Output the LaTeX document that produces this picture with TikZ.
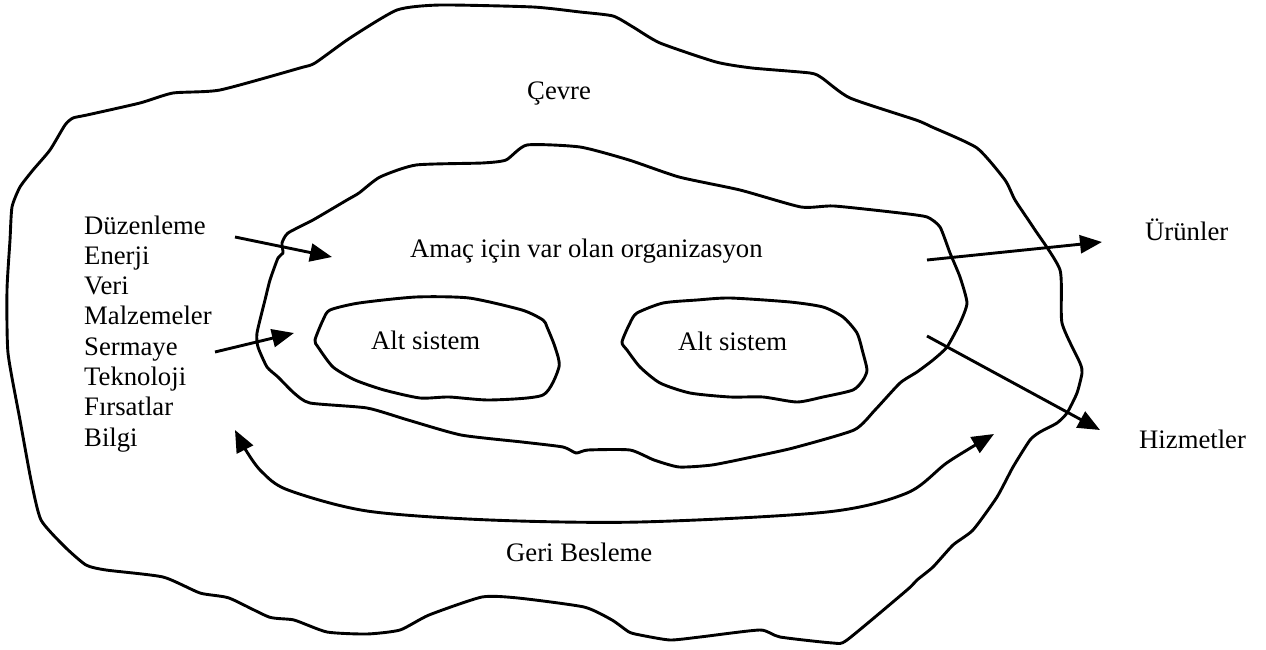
\documentclass[tikz,border=0pt]{standalone}
\usepackage{fontspec}
\setmainfont{Liberation Serif}
\usetikzlibrary{arrows.meta}

\tikzset{
  blob/.style={line width=2.9pt, line join=round, line cap=round},
  flow/.style={line width=2.9pt, -{Triangle[length=22pt,width=18pt]}},
  flowboth/.style={line width=2.9pt, {Triangle[length=22pt,width=18pt]}-{Triangle[length=22pt,width=18pt]}},
  lbl/.style={font=\fontsize{26.7}{30}\selectfont, inner sep=0pt, anchor=base west},
}

\begin{document}
\begin{tikzpicture}[x=1pt, y=-1pt]
\useasboundingbox (0,0) rectangle (1266,650);

% environment boundary
\draw[blob] plot[smooth cycle, tension=0.35] coordinates {
  (65,125) (73,118) (87,115) (140,103) (173,93) (220,90) (300,68) (315,63)
  (350,38) (397,10) (440,5) (533,7) (580,12) (613,16) (633,27) (660,43)
  (716,62) (752,68) (810,73) (822,78) (850,98) (916,120) (932,127)
  (977,148) (1005,180) (1015,200) (1033,227) (1060,270) (1062,323)
  (1080,363) (1082,373) (1077,393) (1067,413) (1057,423) (1040,432)
  (1030,440) (1013,467) (997,497) (973,530) (953,545) (933,567) (917,580)
  (907,590) (847,640) (833,643) (780,637) (760,630) (700,637) (670,640)
  (640,635) (629,632) (612,620) (584,607) (518,598) (482,597) (429,615)
  (400,630) (367,634) (327,632) (294,620) (269,617) (229,598) (200,593)
  (163,577) (106,570) (86,565) (65,547) (41,520) (31,480) (20,420)
  (8,353) (7,290) (10,240) (12,207) (20,187) (33,170) (50,150)};

% organisation boundary
\draw[blob] plot[smooth cycle, tension=0.35] coordinates {
  (380,177) (416,165) (482,163) (506,160) (527,145) (580,147) (629,160)
  (679,177) (740,190) (801,207) (834,206) (900,213) (927,217) (940,227)
  (950,253) (960,277) (967,303) (960,323) (947,347) (933,360) (917,372)
  (900,383) (875,410) (854,430) (793,448) (752,457) (712,465) (679,467)
  (654,460) (630,450) (588,450) (576,453) (563,447) (522,442) (461,435)
  (408,420) (367,408) (310,403) (294,393) (278,377) (267,367) (258,347)
  (257,333) (265,300) (270,280) (278,258) (283,253) (282,243) (288,233)
  (313,220) (347,200) (359,193)};

% subsystems
\draw[blob] plot[smooth cycle, tension=0.4] coordinates {
  (330,310) (359,303) (416,297) (469,298) (522,310) (543,320) (547,327)
  (555,347) (559,367) (543,395) (490,400) (449,397) (420,398) (384,390)
  (355,380) (333,367) (318,347) (315,340) (323,320)};
\draw[blob] plot[smooth cycle, tension=0.4] coordinates {
  (630,323) (637,313) (663,303) (697,300) (730,298) (790,302) (823,307)
  (843,317) (857,333) (863,353) (867,370) (863,380) (853,390) (823,397)
  (797,402) (763,397) (730,397) (690,393) (660,383) (640,367) (627,350)
  (622,342)};

% labels
\node[lbl] (env)  at (527,100) {Çevre};
\node[lbl] (org)  at (410,257) {Amaç için var olan organizasyon};
\node[lbl] (sub1) at (371,349) {Alt sistem};
\node[lbl] (sub2) at (678,350) {Alt sistem};
\node[lbl] (prod) at (1145,240) {Ürünler};
\node[lbl] (serv) at (1139,448) {Hizmetler};
\node[lbl] (fb)   at (506,561) {Geri Besleme};

\foreach \w [count=\i from 0] in
  {Düzenleme,Enerji,Veri,Malzemeler,Sermaye,Teknoloji,Fırsatlar,Bilgi}
  \node[lbl] (in\i) at (84,{234+30.3*\i}) {\w};

% inputs
\coordinate (inA) at (235,237);
\coordinate (inAend) at (332,257);
\coordinate (inB) at (215,352);
\coordinate (inBend) at (294,333);
\draw[flow] (inA) -- (inAend);
\draw[flow] (inB) -- (inBend);

% outputs
\coordinate (outA) at (927,260);
\coordinate (outB) at (927,336);
\draw[flow] (outA) -- (1102,242) coordinate (outAend);
\draw[flow] (outB) -- (1100,430) coordinate (outBend);

% feedback loop
\coordinate (fbL) at (235,430);
\coordinate (fbR) at (994,434);
\draw[flowboth] plot[smooth, tension=0.5] coordinates {
  (fbL) (247,452) (262,472) (288,490) (367,511) (490,520) (640,522)
  (827,512) (907,493) (948,462) (fbR)};
\end{tikzpicture}
\end{document}
